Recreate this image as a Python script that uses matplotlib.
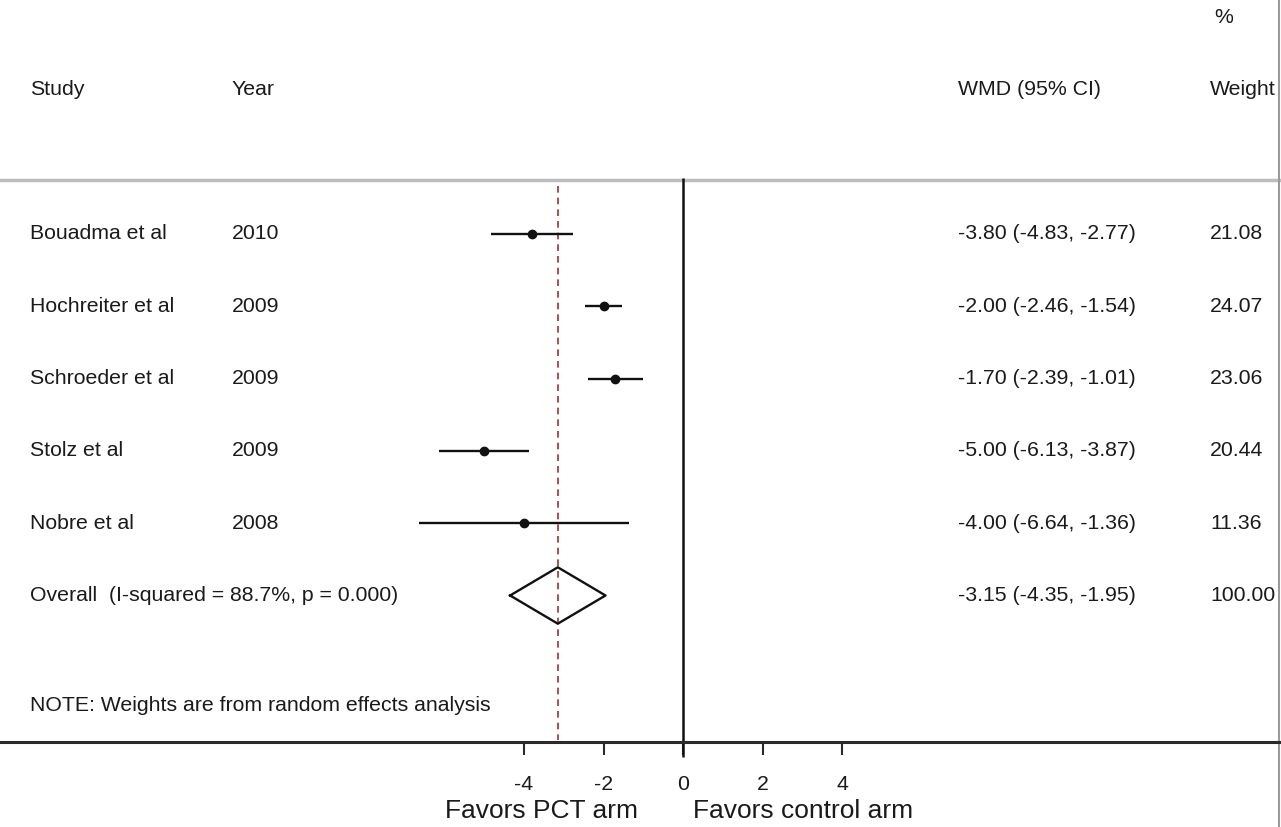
import matplotlib

matplotlib.use("Agg")

import matplotlib.pyplot as plt
from matplotlib.transforms import blended_transform_factory

plt.rcParams["font.family"] = ["Liberation Sans", "DejaVu Sans"]

STUDIES = ["Bouadma et al", "Hochreiter et al", "Schroeder et al", "Stolz et al", "Nobre et al"]
YEARS = ["2010", "2009", "2009", "2009", "2008"]
WMD = [-3.80, -2.00, -1.70, -5.00, -4.00]
CI_LOW = [-4.83, -2.46, -2.39, -6.13, -6.64]
CI_HIGH = [-2.77, -1.54, -1.01, -3.87, -1.36]
WEIGHTS = [21.08, 24.07, 23.06, 20.44, 11.36]

OVERALL = -3.15
OVERALL_LOW = -4.35
OVERALL_HIGH = -1.95
OVERALL_WEIGHT = 100.00
OVERALL_LABEL = "Overall  (I-squared = 88.7%, p = 0.000)"
NOTE = "NOTE: Weights are from random effects analysis"

X_TICKS = [-4, -2, 0, 2, 4]

TEXT = "#1a1a1a"
FS = 15.3


def main():
    fig = plt.figure(figsize=(12.81, 8.27), dpi=100)
    ax = fig.add_axes([0, 0, 1, 1])
    ax.set_xlim(-17.18, 15.04)
    ax.set_ylim(9.202, -2.236)
    for side in ("left", "right", "top"):
        ax.spines[side].set_visible(False)
    ax.spines["bottom"].set_position(("data", 8.026))
    ax.spines["bottom"].set_linewidth(2.2)
    ax.spines["bottom"].set_color("#2a2a2a")
    ax.set_yticks([])
    ax.set_xticks(X_TICKS)
    ax.set_xticklabels([str(t) for t in X_TICKS])
    ax.tick_params(axis="x", direction="out", length=9.5, width=1.5,
                   colors="#2a2a2a", labelsize=FS, pad=14, labelcolor=TEXT)

    cols = blended_transform_factory(ax.transAxes, ax.transData)

    # headers
    ax.text(0.948, -1.99, "%", transform=cols, fontsize=FS, color=TEXT,
            ha="left", va="center")
    for xpos, label in [(0.0234, "Study"), (0.181, "Year"),
                        (0.748, "WMD (95% CI)"), (0.9446, "Weight")]:
        ax.text(xpos, -1.0, label, transform=cols, fontsize=FS, color=TEXT,
                ha="left", va="center")

    # separators
    ax.axhline(0.253, color="#bdbdbd", linewidth=2.5)
    ax.axvline(14.99, color="#9a9a9a", linewidth=1.5)
    ax.vlines(0, 0.22, 8.23, color="#111111", linewidth=1.8)
    ax.vlines(OVERALL, 0.33, 8.0, color="#a03030", linewidth=1.2,
              linestyles=(0, (4, 3)))

    rows = list(range(1, len(STUDIES) + 1))
    for y, name, year, est, lo, hi, w in zip(rows, STUDIES, YEARS, WMD,
                                               CI_LOW, CI_HIGH, WEIGHTS):
        ax.hlines(y, lo, hi, color="#111111", linewidth=1.7)
        ax.plot(est, y, marker="o", markersize=6, color="#111111")
        ax.text(0.0234, y, name, transform=cols, fontsize=FS, color=TEXT,
                ha="left", va="center")
        ax.text(0.181, y, year, transform=cols, fontsize=FS, color=TEXT,
                ha="left", va="center")
        ax.text(0.748, y, f"{est:.2f} ({lo:.2f}, {hi:.2f})", transform=cols,
                fontsize=FS, color=TEXT, ha="left", va="center")
        ax.text(0.9446, y, f"{w:.2f}", transform=cols, fontsize=FS,
                color=TEXT, ha="left", va="center")

    # overall diamond
    yo = len(STUDIES) + 1
    half = 0.39
    ax.plot([OVERALL_LOW, OVERALL, OVERALL_HIGH, OVERALL, OVERALL_LOW],
            [yo, yo - half, yo, yo + half, yo], color="#111111", linewidth=1.7)
    ax.text(0.0234, yo, OVERALL_LABEL, transform=cols, fontsize=FS,
            color=TEXT, ha="left", va="center")
    ax.text(0.748, yo, f"{OVERALL:.2f} ({OVERALL_LOW:.2f}, {OVERALL_HIGH:.2f})",
            transform=cols, fontsize=FS, color=TEXT, ha="left", va="center")
    ax.text(0.9446, yo, f"{OVERALL_WEIGHT:.2f}", transform=cols, fontsize=FS,
            color=TEXT, ha="left", va="center")

    ax.text(0.0234, 7.515, NOTE, transform=cols, fontsize=FS, color=TEXT,
            ha="left", va="center")

    ax.text(-1.13, 8.98, "Favors PCT arm", fontsize=19, color=TEXT,
            ha="right", va="center")
    ax.text(0.25, 8.98, "Favors control arm", fontsize=19, color=TEXT,
            ha="left", va="center")

    fig.savefig("out.png", dpi=100, facecolor="white")
    plt.close(fig)


if __name__ == "__main__":
    main()
